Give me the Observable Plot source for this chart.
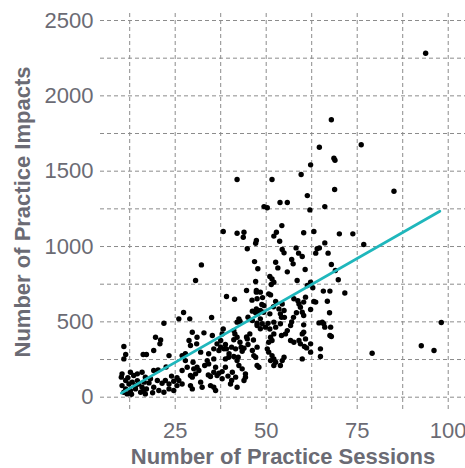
<!DOCTYPE html>
<html><head><meta charset="utf-8">
<script src="https://cdn.jsdelivr.net/npm/d3@7"></script>
<script src="https://cdn.jsdelivr.net/npm/@observablehq/plot@0.6"></script>
<style>html,body{margin:0;padding:0;background:#fff}</style>
</head><body><div id="chart"></div>
<script>
const sessions = [
10.2,10.4,10.4,10.9,10.9,10.9,11.4,11.4,11.4,11.8,12.3,12.7,12.7,13.2,13.6,14.1,14.1,14.6,15.0,15.5,13.0,12.0,14.6,
15.9,15.9,16.2,16.4,16.8,16.8,17.1,17.1,18.2,19.1,19.1,19.1,19.6,17.8,18.8,16.5,
20.1,20.5,20.3,20.8,21.0,21.4,21.9,21.9,22.3,23.3,23.3,23.3,24.6,24.6,24.0,22.5,
25.5,26.0,26.9,25.5,26.0,27.3,26.9,27.8,29.0,26.9,27.8,28.3,28.8,29.2,29.7,29.7,29.2,29.7,29.2,30.1,29.9,
30.6,32.2,30.6,31.0,30.9,32.9,32.0,31.0,31.5,32.0,32.4,33.8,33.1,34.2,34.2,34.1,34.7,34.7,35.0,35.2,
35.6,36.5,37.5,38.4,37.0,38.8,39.1,38.2,37.9,37.5,39.1,38.2,35.6,36.1,35.6,36.5,35.6,36.1,37.9,37.0,38.8,39.7,38.8,37.9,39.8,39.5,
40.7,40.5,41.6,40.2,40.5,41.1,42.3,42.0,41.4,42.0,41.1,42.8,43.1,41.6,41.1,42.5,42.0,42.8,41.3,42.0,42.0,43.9,43.7,44.8,44.6,42.5,43.4,44.3,44.3,42.0,43.9,45.0,43.9,43.4,44.8,45.0,44.6,
46.1,46.2,47.3,46.2,47.5,47.1,48.4,47.7,49.3,48.4,47.5,47.3,48.4,49.0,48.8,49.4,47.1,47.3,46.8,47.7,47.3,47.1,49.4,47.5,48.9,49.8,48.4,47.5,46.2,46.6,47.1,47.5,48.0,45.5,46.5,
50.3,51.6,53.8,52.8,52.1,54.3,53.7,54.4,54.9,52.6,53.2,51.0,51.6,52.1,51.4,50.7,51.2,52.6,53.5,54.4,53.9,54.9,52.0,52.1,52.6,53.9,51.0,51.2,51.6,52.1,50.7,54.2,50.3,50.7,51.6,51.2,52.1,52.6,54.4,54.9,52.1,53.9,50.5,55.0,51.0,54.2,
55.8,57.0,57.4,58.2,58.9,59.9,59.6,55.8,58.5,57.6,59.0,59.4,59.9,60.3,58.3,57.0,56.7,55.8,55.3,56.7,57.6,59.0,59.9,59.4,59.9,57.5,58.7,
60.3,60.8,60.7,61.3,62.2,62.8,63.1,62.2,60.3,60.3,60.8,62.2,60.5,61.1,62.2,64.9,64.9,64.5,63.6,64.0,64.6,60.3,63.1,62.0,61.3,62.2,64.6,63.6,
65.4,65.8,66.1,67.7,67.5,67.9,67.4,66.8,65.7,67.5,67.9,69.0,69.8,67.0,66.1,66.1,68.8,68.6,68.9,67.9,70.1,
71.6,73.8,76.8,76.1,79.1,85.1,93.8,92.6,96.1,98.1
];
const impacts = [
133,155,77,33,336,254,283,111,55,22,88,166,44,100,144,77,55,155,88,33,20,130,110,
166,66,283,44,133,22,283,55,122,66,177,310,398,95,30,100,
111,44,181,354,380,93,33,491,111,88,55,276,106,44,140,200,
77,111,88,130,520,562,276,288,520,177,243,199,376,343,431,133,77,55,144,188,232,
774,878,155,398,354,427,299,199,177,100,66,243,210,221,288,148,137,77,529,409,
321,354,332,321,310,350,321,453,420,376,668,1100,254,199,166,144,66,44,122,159,254,265,199,170,288,140,
166,111,133,88,332,270,265,243,420,398,381,365,332,321,442,520,498,504,650,1445,1088,1095,1062,985,708,210,188,155,133,66,111,350,325,305,387,531,400,
644,571,586,509,491,560,520,553,564,575,653,697,697,661,615,608,768,708,900,852,1040,1022,1265,476,487,465,454,332,310,276,265,210,199,420,380,
1257,1445,1292,1095,1069,1139,1035,980,958,896,858,801,785,763,748,686,679,635,586,619,553,575,600,498,465,487,453,398,376,420,365,409,321,299,276,243,254,232,243,265,210,210,490,530,553,531,
1292,914,885,991,956,934,1478,832,774,653,619,597,564,542,560,500,476,442,420,376,365,376,420,354,254,530,640,
631,664,847,741,763,726,635,582,480,431,387,354,336,327,299,321,270,493,956,985,991,1091,1100,1243,1338,1542,1659,631,
498,487,465,465,409,403,560,637,704,704,881,841,779,956,1024,1265,1378,1586,1573,1841,1084,
692,1084,1013,1675,292,1367,2283,341,310,496
];
const fitSessions = [10.2, 97.7];
const fitImpacts = [27, 1234];
const xTicks = [25, 50, 75, 100];
const yTicks = [0, 500, 1000, 1500, 2000, 2500];
const xGrid = [12.5, 25, 37.5, 50, 62.5, 75, 87.5, 100];
const yGrid = [0, 250, 500, 750, 1000, 1250, 1500, 1750, 2000, 2250, 2500];
const xTitle = "Number of Practice Sessions";
const yTitle = "Number of Practice Impacts";

const points = sessions.map((s, i) => ({s, v: impacts[i]}));
const fit = fitSessions.map((s, i) => ({s, v: fitImpacts[i]}));
const gray = "#6b6b74";
const gridStyle = {stroke: "#8c8c8c", strokeOpacity: 1, strokeWidth: 1, strokeDasharray: "4,3"};

const chart = Plot.plot({
  width: 465, height: 468,
  marginLeft: 100, marginRight: 0, marginTop: 13, marginBottom: 58,
  style: {fontFamily: "'Liberation Sans', Arial, sans-serif", background: "#fff"},
  x: {domain: [4.48, 104.75]},
  y: {domain: [-88.3, 2546.5]},
  marks: [
    Plot.gridX(xGrid, gridStyle),
    Plot.gridY(yGrid, gridStyle),
    Plot.dot(points, {x: "s", y: "v", r: 2.7, fill: "black", stroke: "none"}),
    Plot.line(fit, {x: "s", y: "v", stroke: "#1fb7bc", strokeWidth: 2.8}),
    Plot.axisX(xTicks, {tickSize: 0, tickPadding: 12, fontSize: 22, color: gray, label: null, tickFormat: d3.format("d")}),
    Plot.axisY(yTicks, {tickSize: 0, tickPadding: 7, fontSize: 22, color: gray, label: null, tickFormat: d3.format("d")}),
    Plot.text([xTitle], {text: d => d, frameAnchor: "bottom", lineAnchor: "middle", textAnchor: "middle", dy: 46.5, fontSize: 22, fontWeight: "bold", fill: gray}),
    Plot.text([yTitle], {text: d => d, frameAnchor: "left", lineAnchor: "middle", textAnchor: "middle", dx: -78, rotate: -90, fontSize: 22, fontWeight: "bold", fill: gray})
  ]
});
document.getElementById("chart").append(chart);
</script>
</body></html>
